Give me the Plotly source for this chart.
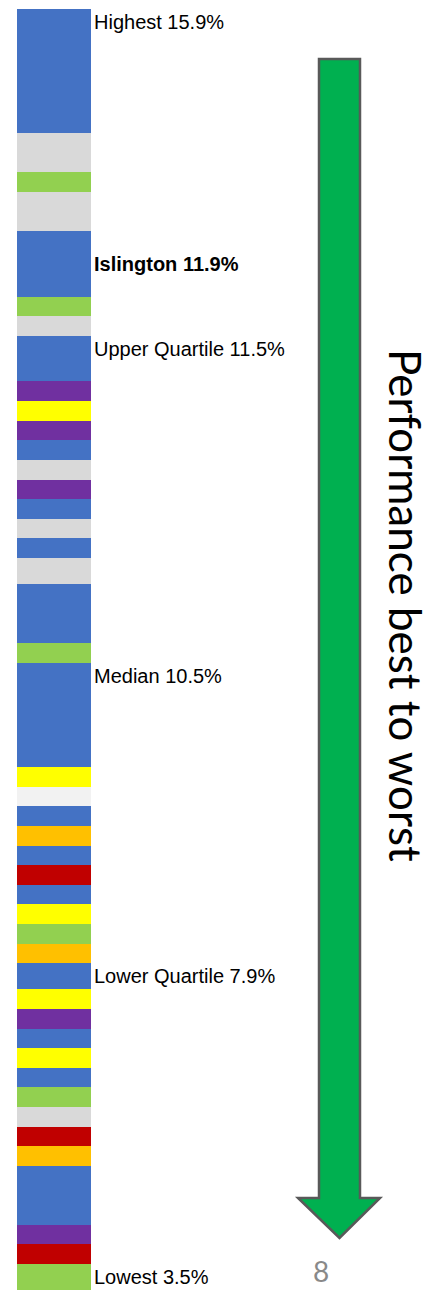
import plotly.graph_objects as go

# ---- data: one entry per authority, top (best) to bottom (worst) ----
band_colour = (
    ["#4472C4"] * 6 + ["#D9D9D9"] * 2 + ["#92D050"] + ["#D9D9D9"] * 2 +
    ["#4472C4"] * 3 + ["#92D050"] + ["#D9D9D9"] + ["#4472C4"] * 2 +
    ["#7030A0", "#FFFF00", "#7030A0", "#4472C4", "#D9D9D9", "#7030A0",
     "#4472C4", "#D9D9D9", "#4472C4", "#D9D9D9"] +
    ["#4472C4"] * 3 + ["#92D050"] + ["#4472C4"] * 5 +
    ["#FFFF00", "#F2F2F2", "#4472C4", "#FFC000", "#4472C4", "#C00000",
     "#4472C4", "#FFFF00", "#92D050", "#FFC000", "#4472C4", "#FFFF00",
     "#7030A0", "#4472C4", "#FFFF00", "#4472C4", "#92D050", "#D9D9D9",
     "#C00000", "#FFC000"] +
    ["#4472C4"] * 3 + ["#7030A0", "#C00000", "#92D050"]
)
band_size = [1.0] * len(band_colour)
band_label = [""] * len(band_colour)

labelled = {0: "Highest 15.9%", 12: "<b>Islington 11.9%</b>",
            16: "Upper Quartile 11.5%", 32: "Median 10.5%",
            47: "Lower Quartile 7.9%", len(band_colour) - 1: "Lowest 3.5%"}
for i, t in labelled.items():
    band_size[i] = 1.33
    band_label[i] = t
band_size[27] = 1.33  # wider unlabelled band

arrow_text = "Performance best to worst"
page_number = "8"

# ---- merge consecutive same-coloured bands into single drawn segments ----
segments = []
for c, s in zip(band_colour, band_size):
    if segments and segments[-1][0] == c:
        segments[-1][1] += s
    else:
        segments.append([c, s])

fig = go.Figure()
for c, s in segments:
    fig.add_trace(go.Bar(x=[0], y=[s], marker=dict(color=c, line=dict(width=0)),
                         width=1, showlegend=False, hoverinfo="skip"))

total = sum(band_size)
W, H = 432, 1290
px_per_unit = 1281 / total
top_px = 9
y_top = -top_px / px_per_unit
y_bot = (H - top_px) / px_per_unit
bar_px = 74
x_left = -(17 + bar_px / 2) / bar_px
x_right = x_left + W / bar_px

# labels at the centre of their band
cum = 0.0
for s, lab in zip(band_size, band_label):
    if lab:
        fig.add_annotation(x=92 / W, xref="paper", xanchor="left",
                           y=cum + s / 2, yref="y", yanchor="middle",
                           text=lab, showarrow=False,
                           font=dict(family="Liberation Sans, Arial", size=20, color="#000000"))
    cum += s

def px(xp, yp):
    return f"{xp / W:.5f},{1 - yp / H:.5f}"

path = ("M " + px(319, 59) + " L " + px(360, 59) + " L " + px(360, 1198) +
        " L " + px(380, 1198) + " L " + px(339.5, 1238) + " L " + px(298, 1198) +
        " L " + px(319, 1198) + " Z")
fig.add_shape(type="path", path=path, xref="paper", yref="paper",
              fillcolor="#00B050", line=dict(color="#595959", width=2.5))

fig.add_annotation(x=406 / W, y=1 - 605 / H, xref="paper", yref="paper",
                   text=arrow_text, textangle=90, showarrow=False,
                   xanchor="center", yanchor="middle",
                   font=dict(family="Lato", size=44, color="#000000"))
fig.add_annotation(x=321 / W, y=0, xref="paper", yref="paper",
                   text=page_number, showarrow=False,
                   xanchor="center", yanchor="bottom",
                   font=dict(family="Lato", size=28, color="#898989"))

fig.update_layout(
    width=W, height=H, barmode="stack", bargap=0,
    margin=dict(l=0, r=0, t=0, b=0),
    paper_bgcolor="white", plot_bgcolor="white",
    xaxis=dict(range=[x_left, x_right], visible=False, fixedrange=True),
    yaxis=dict(range=[y_bot, y_top], visible=False, fixedrange=True),
)
fig.write_html("out.html", config={"displayModeBar": False},
               post_script="document.body.style.margin='0';document.body.style.overflow='hidden';")
